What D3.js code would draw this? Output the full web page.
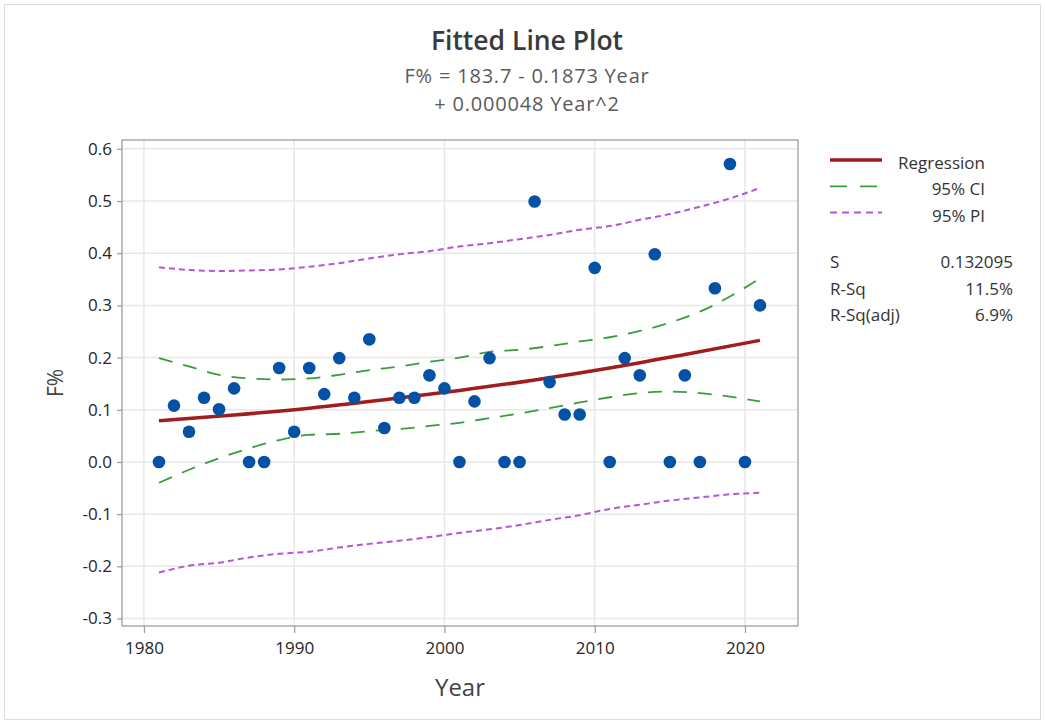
<!DOCTYPE html>
<html><head><meta charset="utf-8">
<script src="https://cdn.jsdelivr.net/npm/d3@7"></script>
<style>
html,body{margin:0;padding:0;background:#fff;}
text{font-family:"Open Sans","Noto Sans",sans-serif;}
</style></head>
<body>
<svg id="chart" width="1045" height="724"></svg>
<script>
// ---- data ----
const years = d3.range(1981, 2022);
const fPct = [0.000,0.108,0.058,0.123,0.101,0.141,0.000,0.000,0.180,0.058,
              0.180,0.130,0.199,0.123,0.235,0.065,0.123,0.123,0.166,0.141,
              0.000,0.116,0.199,0.000,0.000,0.499,0.153,0.091,0.091,0.372,
              0.000,0.199,0.166,0.398,0.000,0.166,0.000,0.333,0.571,0.000,0.300];
const fitYears = [1981,1986,1991,1996,2001,2006,2011,2016,2021];
const fitValues = [0.079,0.090,0.103,0.119,0.137,0.157,0.180,0.206,0.233];
const bandYears = [1981,1983,1985,1987,1989,1991,1993,1995,1997,1999,2001,2003,2005,2007,2009,2011,2013,2015,2017,2019,2021];
const ciUpper = [0.199,0.183,0.167,0.160,0.158,0.160,0.167,0.176,0.183,0.192,0.200,0.211,0.215,0.222,0.231,0.239,0.251,0.267,0.288,0.317,0.352];
const ciLower = [-0.040,-0.015,0.007,0.026,0.042,0.052,0.054,0.059,0.063,0.069,0.075,0.084,0.093,0.103,0.114,0.124,0.132,0.135,0.132,0.125,0.116];
const piUpper = [0.373,0.368,0.366,0.367,0.369,0.374,0.381,0.390,0.398,0.404,0.413,0.419,0.427,0.435,0.445,0.452,0.464,0.475,0.489,0.505,0.525];
const piLower = [-0.212,-0.199,-0.193,-0.183,-0.176,-0.172,-0.164,-0.157,-0.151,-0.144,-0.136,-0.129,-0.121,-0.111,-0.102,-0.090,-0.082,-0.074,-0.068,-0.062,-0.059];
const xTicks = [1980,1990,2000,2010,2020];
const yTicks = [-0.3,-0.2,-0.1,0.0,0.1,0.2,0.3,0.4,0.5,0.6];
const titleText = "Fitted Line Plot";
const subtitleLines = ["F% = 183.7 - 0.1873 Year", "+ 0.000048 Year^2"];
const legendItems = ["Regression","95% CI","95% PI"];
const statNames = ["S","R-Sq","R-Sq(adj)"];
const statValues = ["0.132095","11.5%","6.9%"];

// ---- layout ----
const svg = d3.select("#chart");
const L = 122, R = 798, T = 140, B = 626;
const x = d3.scaleLinear().domain([1978.54, 2023.53]).range([L, R]);
const y = d3.scaleLinear().domain([-0.3144, 0.617]).range([B, T]);

svg.append("rect").attr("x",4.5).attr("y",4.5).attr("width",1036).attr("height",715)
  .attr("fill","#fff").attr("stroke","#dcdcdc").attr("stroke-width",1);

// gridlines
const grid = svg.append("g");
grid.selectAll("line.gy").data(yTicks).join("line")
  .attr("x1",L).attr("x2",R).attr("y1",d=>y(d)).attr("y2",d=>y(d))
  .attr("stroke","#e8e8e8").attr("stroke-width",1.5);
grid.selectAll("line.gx").data(xTicks).join("line")
  .attr("y1",T).attr("y2",B).attr("x1",d=>x(d)).attr("x2",d=>x(d))
  .attr("stroke","#e8e8e8").attr("stroke-width",1.5);

// axes
const fmtY = d => d3.format(".1f")(d).replace("\u2212","-");
const xAxis = svg.append("g").attr("transform",`translate(0,${B})`)
  .call(d3.axisBottom(x).tickValues(xTicks).tickFormat(d3.format("d")).tickSize(7).tickPadding(9));
const yAxis = svg.append("g").attr("transform",`translate(${L},0)`)
  .call(d3.axisLeft(y).tickValues(yTicks).tickFormat(fmtY).tickSize(5).tickPadding(5));
[xAxis,yAxis].forEach(a=>{
  a.select(".domain").remove();
  a.selectAll(".tick line").attr("stroke","#9a9a9a").attr("stroke-width",1.2);
  a.selectAll(".tick text").attr("fill","#262626").style("font-size","17px");
});

// frame
svg.append("rect").attr("x",L).attr("y",T).attr("width",R-L).attr("height",B-T)
  .attr("fill","none").attr("stroke","#9e9e9e").attr("stroke-width",1.3);

// bands
const line = d3.line().x(d=>x(d[0])).y(d=>y(d[1])).curve(d3.curveMonotoneX);
const g = svg.append("g");
const band = (vals, color, dash, w) => g.append("path")
  .attr("d", line(bandYears.map((yr,i)=>[yr, vals[i]])))
  .attr("fill","none").attr("stroke",color).attr("stroke-width",w).attr("stroke-dasharray",dash);
band(piUpper,"#b556d6","6,4",2);
band(piLower,"#b556d6","6,4",2);
band(ciUpper,"#3a9c3a","14,11",1.8);
band(ciLower,"#3a9c3a","14,11",1.8);

// regression line
g.append("path").attr("d", line(fitYears.map((yr,i)=>[yr, fitValues[i]])))
  .attr("fill","none").attr("stroke","#a01d1d").attr("stroke-width",3.5);

// points
g.selectAll("circle").data(years.map((yr,i)=>[yr,fPct[i]])).join("circle")
  .attr("cx",d=>x(d[0])).attr("cy",d=>y(d[1])).attr("r",6.3).attr("fill","#0452a5");

// titles
svg.append("text").attr("x",527).attr("y",50).attr("text-anchor","middle")
  .attr("fill","#3a3a3a").style("font-size","26.5px").style("font-weight","600").text(titleText);
subtitleLines.forEach((s,i)=>svg.append("text").attr("x",527).attr("y",83+i*28)
  .attr("text-anchor","middle").attr("fill","#5a5a5a").style("font-size","20px")
  .style("letter-spacing","0.8px").text(s));

svg.append("text").attr("x",460).attr("y",696).attr("text-anchor","middle")
  .attr("fill","#444").style("font-size","24px").text("Year");
svg.append("text").attr("transform",`translate(63,${(T+B)/2}) rotate(-90)`)
  .attr("text-anchor","middle").attr("fill","#444").style("font-size","21px").text("F%");

// legend
const leg = svg.append("g");
const legStyles = [
  {c:"#a01d1d",d:null,w:3.5},
  {c:"#3a9c3a",d:"17,13",w:1.8},
  {c:"#b556d6",d:"7,5",w:2}
];
legendItems.forEach((name,i)=>{
  const yy = 160 + i*26.3;
  leg.append("line").attr("x1",830).attr("x2",882).attr("y1",yy).attr("y2",yy)
    .attr("stroke",legStyles[i].c).attr("stroke-width",legStyles[i].w)
    .attr("stroke-dasharray",legStyles[i].d);
  leg.append("text").attr("x",985).attr("y",yy+9).attr("text-anchor","end")
    .attr("fill","#333").style("font-size","17px").text(name);
});
statNames.forEach((name,i)=>{
  const yy = 268 + i*26.7;
  leg.append("text").attr("x",830).attr("y",yy).attr("fill","#333").style("font-size","17px").text(name);
  leg.append("text").attr("x",1013).attr("y",yy).attr("text-anchor","end").attr("fill","#333").style("font-size","17px").text(statValues[i]);
});
</script>
</body></html>
